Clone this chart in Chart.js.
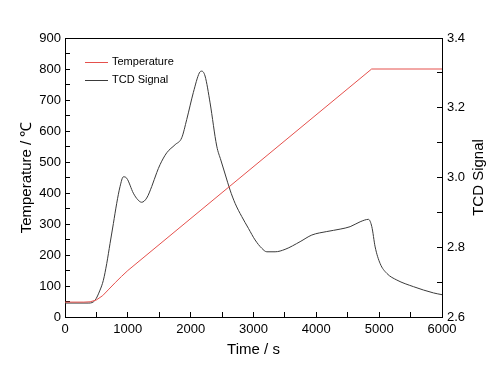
<!DOCTYPE html>
<html>
<head>
<meta charset="utf-8">
<script src="https://cdn.jsdelivr.net/npm/chart.js@4"></script>
<style>
    body { margin: 0; background: #ffffff; }
    #box { width: 504px; height: 373px; }
</style>
</head>
<body>
<div id="box"><canvas id="tpdChart" width="504" height="373"></canvas></div>
<script>
// Temperature programme (time in s, temperature in degrees C)
var tempTime = [0, 300, 400, 500, 600, 700, 800, 900, 1000, 4880, 6000];
var tempValues = [48, 48, 49, 55, 69, 90, 111, 131, 150, 800, 800];

// TCD signal (time in s, signal on the right axis)
var tcdTime = [0, 380, 478, 557, 610, 664, 717, 770, 823, 876, 929, 982, 1088, 1160, 1220, 1300, 1380, 1460, 1513,
    1620, 1752, 1858, 1937, 2043, 2138, 2176, 2229, 2309, 2415, 2480, 2548, 2627, 2707, 2813, 2920, 3025, 3132, 3212,
    3344, 3503, 3742, 3928, 4166, 4379, 4538, 4697, 4830, 4883, 4936, 5016, 5122, 5281, 5546, 5865, 6000];
var tcdValues = [2.640, 2.640, 2.648, 2.677, 2.705, 2.753, 2.811, 2.868, 2.926, 2.974, 3.002, 2.998, 2.955, 2.936, 2.929, 2.941, 2.974, 3.014, 3.037,
    3.071, 3.094, 3.114, 3.166, 3.244, 3.300, 3.305, 3.291, 3.214, 3.090, 3.050, 3.010, 2.964, 2.926, 2.888, 2.854, 2.821, 2.797, 2.787,
    2.787, 2.794, 2.816, 2.835, 2.845, 2.852, 2.859, 2.873, 2.880, 2.859, 2.801, 2.753, 2.725, 2.706, 2.687, 2.669, 2.664];

// Axis ranges and labelled ticks
var timeTicks = [0, 1000, 2000, 3000, 4000, 5000, 6000];
var tempTicks = [0, 100, 200, 300, 400, 500, 600, 700, 800, 900];
var tcdTicks = [2.6, 2.8, 3.0, 3.2, 3.4];

var seriesNames = ["Temperature", "TCD Signal"];
var seriesColors = ["#e5504c", "#3a3a3a"];

var fontName = "'Liberation Sans', Arial, sans-serif";

// Builds {x, y} points from a time list and a value list
function makePoints(times, values) {
    var pts = [];
    for (var i = 0; i < times.length; i++) {
        pts.push({ x: times[i], y: values[i] });
    }
    return pts;
}

// Only show a label where the value is in the list of labelled ticks
function onlyListed(list, digits) {
    return function (value) {
        for (var i = 0; i < list.length; i++) {
            if (Math.abs(list[i] - value) < 1e-6) {
                return digits ? value.toFixed(digits) : String(value);
            }
        }
        return "";
    };
}

// Draws the top frame line, the legend and the right axis title
var extras = {
    id: "extras",
    afterDraw: function (chart) {
        var ctx = chart.ctx;
        var area = chart.chartArea;
        ctx.save();
        ctx.strokeStyle = "#000000";
        ctx.lineWidth = 1;
        ctx.beginPath();
        ctx.moveTo(area.left, Math.round(area.top) + 0.5);
        ctx.lineTo(area.right, Math.round(area.top) + 0.5);
        ctx.stroke();

        // legend in the top left corner of the plot
        ctx.font = "11px " + fontName;
        ctx.textBaseline = "middle";
        ctx.fillStyle = "#000000";
        chart.data.datasets.forEach(function (ds, i) {
            var y = 62 + i * 17.5;
            ctx.strokeStyle = ds.borderColor;
            ctx.beginPath();
            ctx.moveTo(85, Math.round(y) + 0.5);
            ctx.lineTo(108, Math.round(y) + 0.5);
            ctx.stroke();
            ctx.fillText(ds.label, 112, y);
        });

        // right axis title, reading bottom to top
        ctx.font = "15px " + fontName;
        ctx.textAlign = "center";
        ctx.translate(479, (area.top + area.bottom) / 2);
        ctx.rotate(-Math.PI / 2);
        ctx.fillText("TCD Signal", 0, 0);
        ctx.restore();
    }
};

new Chart(document.getElementById("tpdChart"), {
    type: "line",
    data: {
        datasets: [{
            label: seriesNames[0],
            data: makePoints(tempTime, tempValues),
            borderColor: seriesColors[0],
            borderWidth: 1,
            pointRadius: 0,
            yAxisID: "y"
        }, {
            label: seriesNames[1],
            data: makePoints(tcdTime, tcdValues),
            borderColor: seriesColors[1],
            borderWidth: 1,
            pointRadius: 0,
            cubicInterpolationMode: "monotone",
            yAxisID: "y2"
        }]
    },
    options: {
        responsive: false,
        animation: false,
        layout: { padding: { top: 38, left: 0, right: 0, bottom: 0 } },
        plugins: {
            legend: { display: false },
            tooltip: { enabled: false }
        },
        scales: {
            x: {
                type: "linear",
                min: 0,
                max: 6000,
                afterFit: function (scale) { scale.height = 56; },
                border: { color: "#000000", width: 1 },
                grid: { drawOnChartArea: false, tickLength: -5, tickColor: "#000000" },
                ticks: {
                    stepSize: 500,
                    autoSkip: false,
                    maxRotation: 0,
                    padding: 10,
                    color: "#000000",
                    font: { family: fontName, size: 13 },
                    callback: onlyListed(timeTicks, 0)
                },
                title: {
                    display: true,
                    text: "Time / s",
                    color: "#000000",
                    font: { family: fontName, size: 15 },
                    padding: { top: 0, bottom: 14 }
                }
            },
            y: {
                position: "left",
                min: 0,
                max: 900,
                afterFit: function (scale) { scale.width = 65; },
                border: { color: "#000000", width: 1 },
                grid: { drawOnChartArea: false, tickLength: -5, tickColor: "#000000" },
                ticks: {
                    stepSize: 50,
                    autoSkip: false,
                    padding: 9,
                    color: "#000000",
                    font: { family: fontName, size: 13 },
                    callback: onlyListed(tempTicks, 0)
                },
                title: {
                    display: true,
                    text: "Temperature / ℃",
                    color: "#000000",
                    font: { family: fontName, size: 15 },
                    padding: { top: 18, bottom: 0 }
                }
            },
            y2: {
                position: "right",
                min: 2.6,
                max: 3.4,
                afterFit: function (scale) { scale.width = 62; },
                border: { color: "#000000", width: 1 },
                grid: { drawOnChartArea: false, tickLength: -5, tickColor: "#000000" },
                ticks: {
                    stepSize: 0.1,
                    autoSkip: false,
                    padding: 10,
                    color: "#000000",
                    font: { family: fontName, size: 13 },
                    callback: onlyListed(tcdTicks, 1)
                }
            }
        }
    },
    plugins: [extras]
});
</script>
</body>
</html>
